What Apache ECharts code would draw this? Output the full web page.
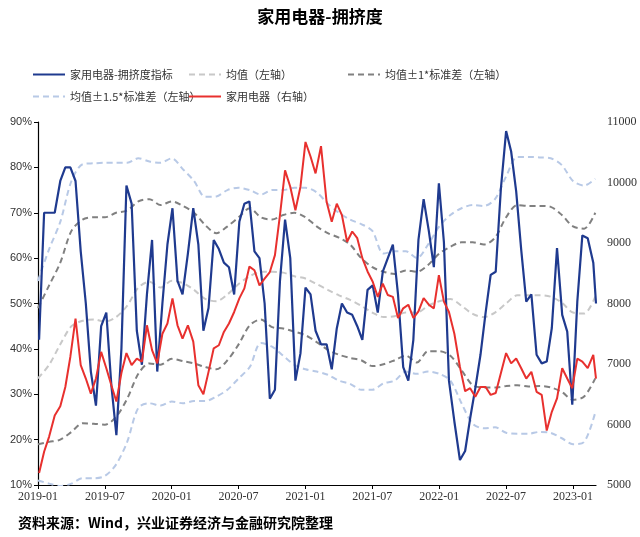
<!DOCTYPE html>
<html><head><meta charset="utf-8">
<script src="https://cdn.jsdelivr.net/npm/echarts@6/dist/echarts.min.js"></script>
<style>html,body{margin:0;padding:0;background:#fff}#c{width:640px;height:537px}</style>
</head><body><div id="c"></div>
<script>
// ---- data ----
const firstDate = '2019-01-04';   // biweekly sampling start
const stepDays = 14;
const lastDate = '2023-03-03';    // final weekly observation
const bandStartMonth = '2019-01'; // bands sampled monthly
const xTickLabels = ['2019-01','2019-07','2020-01','2020-07','2021-01','2021-07','2022-01','2022-07','2023-01'];
const leftTicks = [10,20,30,40,50,60,70,80,90];
const rightTicks = [5000,6000,7000,8000,9000,10000,11000];

// 家用电器-拥挤度指标 (%)
const crowding = [42,70,70,70,77,80,80,77,61.5,50,35,27.5,45,48,32,21,40,76,72,44,
  36.5,52,64,35,50,63,71,55,52,61,71,63,44,49,64,62,59,58,52,68,
  72,72.5,61.5,60,50,29,31,55,68.5,60,33,39,53.5,52,44,41,41,35.5,44.5,50,
  48,47.5,45,42,53,54,48,57,60,63,52,36,33,42,64,73,66,58,76.5,63.5,
  33,24,15.5,17.5,24.7,31.3,38.7,48,56.3,57,75.4,88,83.5,74.7,61.8,50.4,52,38.7,36.8,37.2,
  44.6,62.2,47.5,43.8,27.7,50.4,65,64.4,59,50];
// 家用电器指数 (右轴)
const appliance = [5200,5550,5800,6150,6300,6620,7120,7750,6980,6760,6510,6760,7200,6930,6650,6380,6850,7180,6980,7090,
  7040,7640,7230,7010,7500,7670,8085,7640,7420,7640,7370,6650,6500,6870,7260,7310,7530,7670,7860,8085,
  8250,8610,8550,8300,8410,8520,8800,9460,10200,9930,9540,9930,10670,10430,10150,10600,9680,9350,9650,9460,
  9020,9190,9080,8750,8530,8360,8110,8330,8140,8110,7760,7920,7980,7760,7870,8090,7980,7920,8470,8030,
  7860,7500,6950,6550,6600,6460,6620,6620,6490,6520,6850,7180,7010,7090,6930,6760,6870,6540,6490,5900,
  6210,6430,6930,6760,6600,7090,7040,6930,7150,6760];
// monthly bands (%)
const meanLine = [33.5,36.5,41,45,46.2,46.5,46,47,49.5,53.5,54.8,53.5,55,54.5,53,51,50.5,52,54.3,56,
  57,57,56.8,56,55.5,54.3,53,51.8,50.8,49.5,48,47,47.2,48,48,49.5,50.5,51,49.5,47.7,
  47,48,50,51.8,51.8,51.8,51.5,50.2,48,47.8,51.5];
const upper1 = [49,54,59,66,68.5,69,69,70,70.5,72.5,73,71.7,72.5,71.5,70,67.3,65.5,67,69,71,
  69,68.5,69.5,70,69,67,65.5,64.5,63,60,58,57,56.5,57.3,57,58.5,61,62.5,63.5,63.5,
  63,64.5,69,71.7,71.5,71.5,71.3,69.5,67,66.5,70];
const lower1 = [19,19.5,20,21.7,23.6,23.5,23.3,25,29,34.5,36.8,36.5,37.8,37.3,36.8,36,35.5,37.5,41,45.2,
  46.5,44.8,44.5,43.8,43,41.5,39.8,38.7,38,37.5,36.2,36.6,37.5,38.5,37,39.5,39.5,38.5,35.3,32,
  31.5,31.5,31.8,32,31.7,31.8,31.5,30.5,28.8,29.5,33.5];
const upper15 = [55,62,68,77,80.7,80.9,81,81,81,82,81.3,81,82,79.6,77,73.5,73.6,75,75.5,75,
  74,75,75,75.5,75.5,74.5,72,70,68.5,67.5,66,61,61.5,61.5,60,63,67,69.5,71,71.7,
  71.5,73,78,82.3,82.3,82.2,82,80.5,77,76,77.5];
const lower15 = [11,10.3,9.8,10.3,11.5,11.5,12,14.5,19.5,27,28,27.5,28.4,28,28.5,28.5,29.5,31,33.5,36,
  41.3,40.5,38.5,36.5,35.5,35,34.3,33,32.3,31,31,32.4,33,35,34.5,35,34.5,33,28,23.5,
  22.5,22.7,21.5,21.3,21.3,21.7,21.5,20.3,19,19.5,26];

// ---- helpers ----
function monthPos(d){ // months since 2019-01-01, fractional
  const y=d.getUTCFullYear(), m=d.getUTCMonth(), day=d.getUTCDate();
  const dim=new Date(Date.UTC(y,m+1,0)).getUTCDate();
  return (y-2019)*12+m+(day-1)/dim;
}
function parseD(s){ const p=s.split('-').map(Number); return new Date(Date.UTC(p[0],p[1]-1,p[2]||1)); }
const mainX = [];
{
  const d0=parseD(firstDate);
  for(let i=0;i<crowding.length-1;i++){ mainX.push(monthPos(new Date(d0.getTime()+i*stepDays*86400000))); }
  mainX.push(monthPos(parseD(lastDate)));
}
const bandX = [];
{ const b0=parseD(bandStartMonth); for(let i=0;i<meanLine.length;i++){ bandX.push(monthPos(new Date(Date.UTC(b0.getUTCFullYear(),b0.getUTCMonth()+i,1)))); } }
const tickPos = xTickLabels.map(s=>monthPos(parseD(s)));
const xMax = monthPos(parseD(lastDate));
const zip=(xs,ys)=>ys.map((v,i)=>[xs[i],v]);

const N1='家用电器-拥挤度指标', N2='均值（左轴）', N3='均值±1*标准差（左轴）', N4='均值±1.5*标准差（左轴）', N5='家用电器（右轴）';
const cBlue='#1F3A8F', cRed='#E8302E', cMean='#C8C8C8', cSd1='#808080', cSd15='#B8C9E6';
const dash=[6,4];
function bandSeries(name,data,color){
  return {name, type:'line', xAxisIndex:0, yAxisIndex:0, data:zip(bandX,data), symbol:'none', smooth:0.3,
    lineStyle:{color, width:2, type:dash}, itemStyle:{color}, z:1};
}
const legFont={fontSize:11, color:'#333', fontFamily:'Noto Sans CJK SC'};
function leg(name,left,top){ return {data:[name], left, top, itemWidth:32, itemHeight:12, itemGap:4,
  itemStyle:{opacity:0, borderWidth:0}, textStyle:legFont, selectedMode:false}; }

const chart = echarts.init(document.getElementById('c'), null, {renderer:'canvas'});
chart.setOption({
  animation:false,
  backgroundColor:'#fff',
  title:{text:'家用电器-拥挤度', left:'center', top:3, textStyle:{fontSize:17, fontWeight:'bold', color:'#000', fontFamily:'Noto Sans CJK SC'}},
  legend:[leg(N1,27,64), leg(N2,183,64), leg(N3,342,64), leg(N4,27,86), leg(N5,183,86)],
  grid:{left:38, right:44, top:122, bottom:52, containLabel:false},
  xAxis:{type:'value', min:0, max:xMax,
    axisLine:{show:true, lineStyle:{color:'#000', width:1.2}},
    axisTick:{show:true, customValues:tickPos, length:4, lineStyle:{color:'#000'}},
    axisLabel:{customValues:tickPos, formatter:(v)=>{const k=tickPos.findIndex(t=>Math.abs(t-v)<1e-6); return k>=0?xTickLabels[k]:'';},
      fontSize:12, color:'#333', fontFamily:'Liberation Serif', margin:6},
    splitLine:{show:false}},
  yAxis:[
    {type:'value', min:leftTicks[0], max:leftTicks[leftTicks.length-1], interval:10,
      axisLine:{show:true, lineStyle:{color:'#000', width:1.2}},
      axisTick:{show:true, length:4, lineStyle:{color:'#000'}},
      axisLabel:{formatter:'{value}%', fontSize:11, color:'#333', fontFamily:'Liberation Sans', margin:6},
      splitLine:{show:false}},
    {type:'value', min:rightTicks[0], max:rightTicks[rightTicks.length-1], interval:1000,
      axisLine:{show:false}, axisTick:{show:false},
      axisLabel:{formatter:(v)=>String(v), fontSize:12, color:'#333', fontFamily:'Liberation Serif', margin:11},
      splitLine:{show:false}}
  ],
  series:[
    bandSeries(N4, upper15, cSd15),
    bandSeries(N4, lower15, cSd15),
    bandSeries(N3, upper1, cSd1),
    bandSeries(N3, lower1, cSd1),
    bandSeries(N2, meanLine, cMean),
    {name:N1, type:'line', yAxisIndex:0, data:zip(mainX,crowding), symbol:'none', lineStyle:{color:cBlue, width:2.2}, itemStyle:{color:cBlue}, z:3},
    {name:N5, type:'line', yAxisIndex:1, data:zip(mainX,appliance), symbol:'none', lineStyle:{color:cRed, width:2}, itemStyle:{color:cRed}, z:4}
  ],
  graphic:[{type:'text', left:18, top:516, style:{text:'资料来源：Wind，兴业证券经济与金融研究院整理', fontSize:14, fontWeight:'bold', fill:'#000', fontFamily:'Noto Sans CJK SC'}}]
});
</script></body></html>
